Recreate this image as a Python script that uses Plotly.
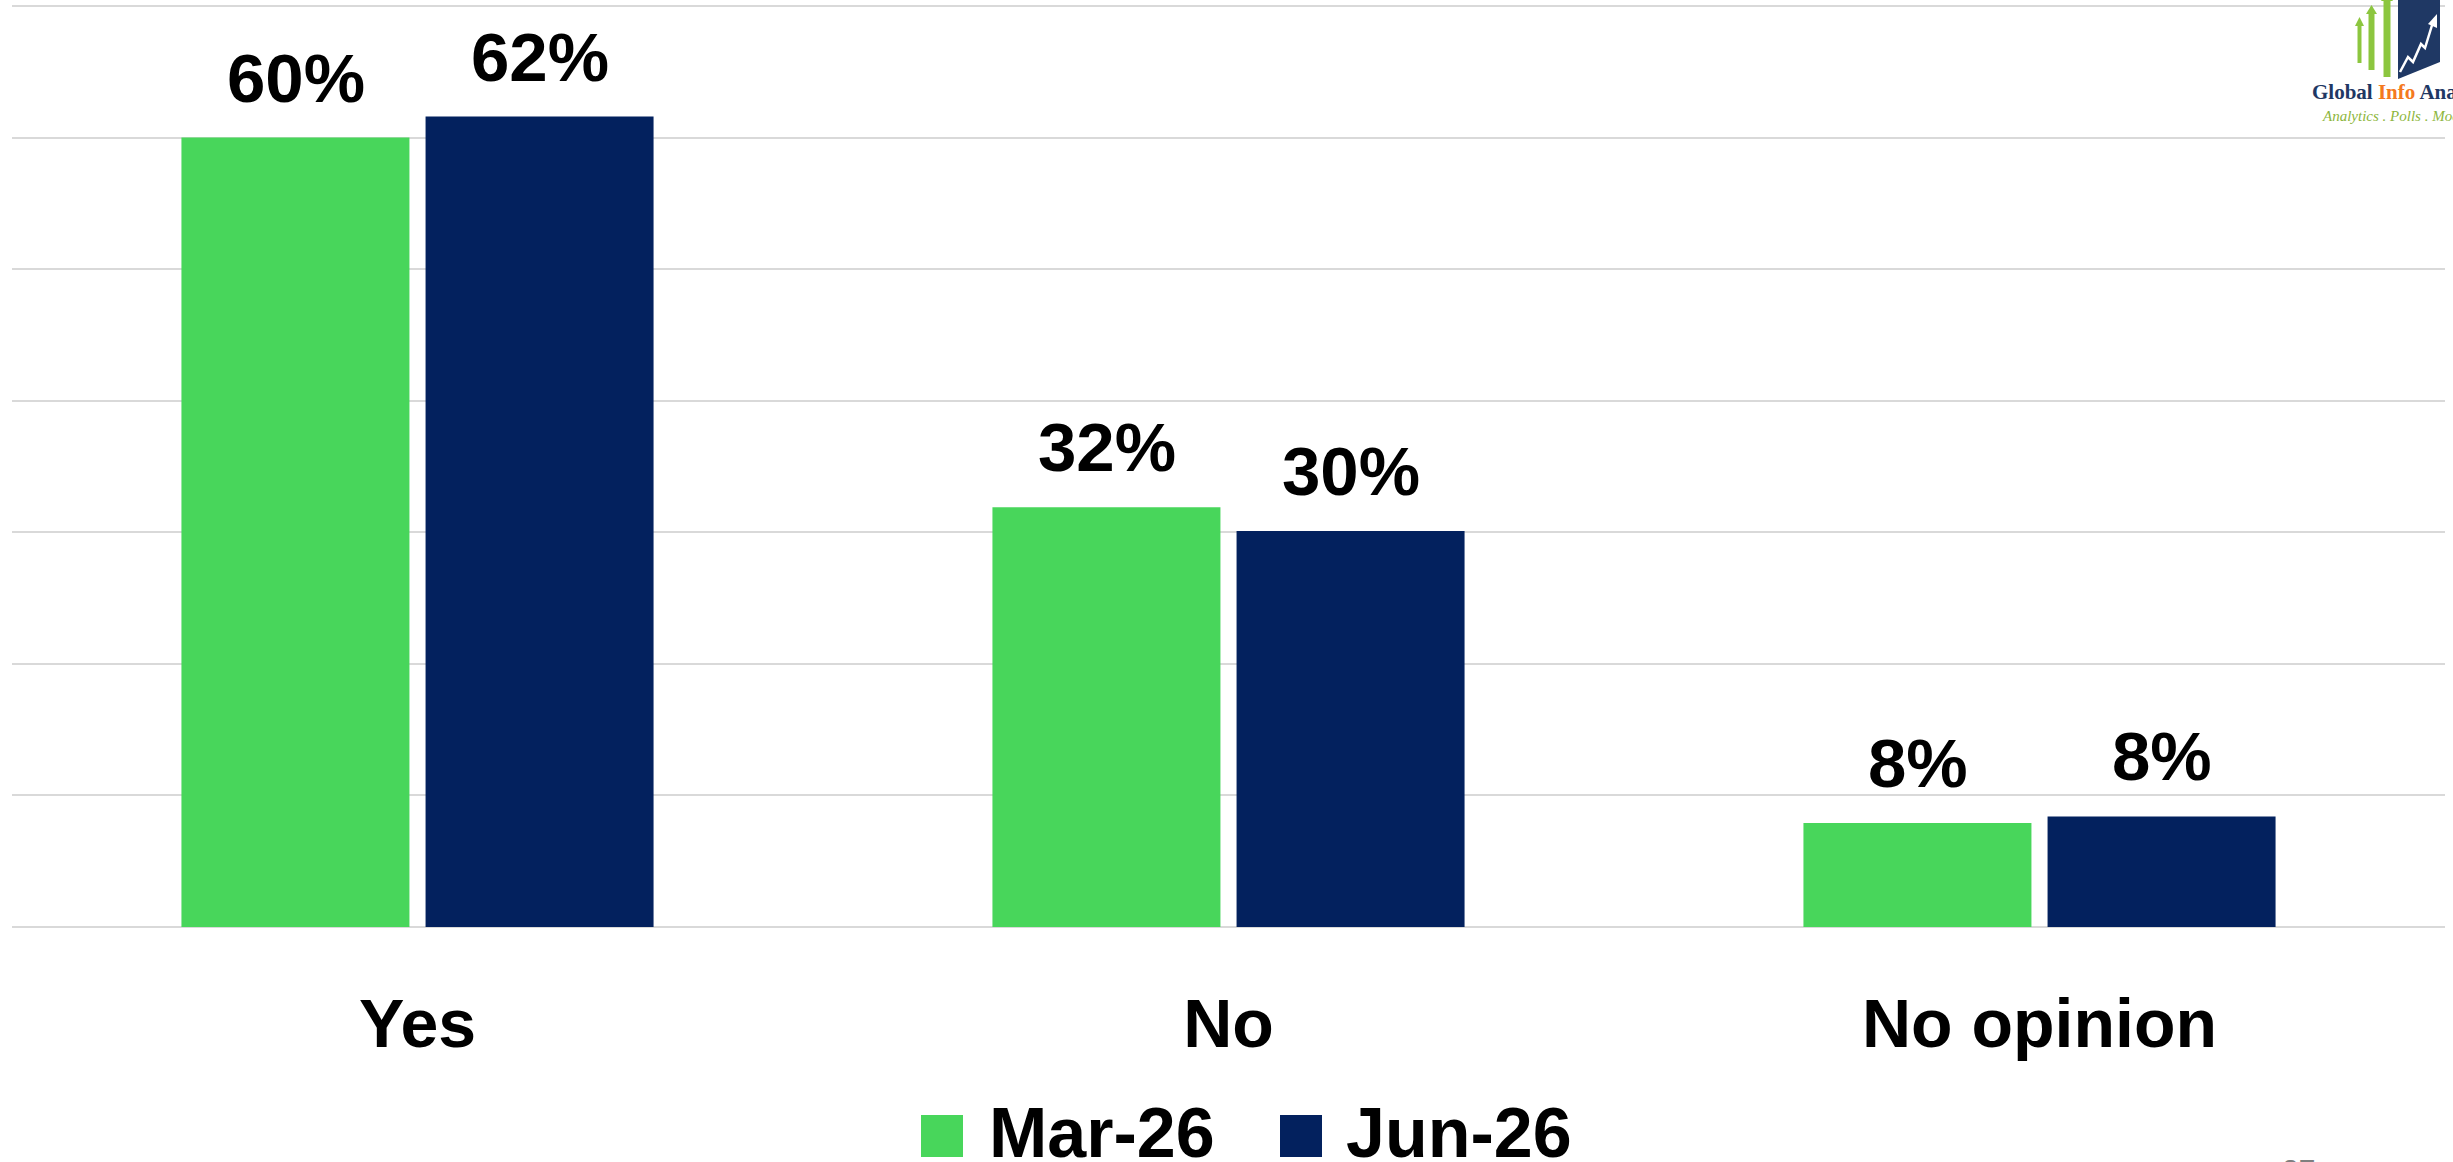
import plotly.graph_objects as go

# categories and series (labels are rounded)
CATEGORIES = ["Yes", "No", "No opinion"]
SERIES_NAMES = ["Mar-26", "Jun-26"]
MAR_26 = [60.0, 31.9, 7.9]
JUN_26 = [61.6, 30.1, 8.4]
SERIES_VALUES = [MAR_26, JUN_26]
COLORS = ["#48D65B", "#03215E"]
Y_TOP_GRID = 70

W, H = 2453, 1162
M_L, M_R, M_T, M_B = 12, 8, 2, 235
PLOT_W = W - M_L - M_R
PLOT_H = H - M_T - M_B
# top gridline sits at page y=6, baseline at y=927
Y_MAX = Y_TOP_GRID * PLOT_H / (H - M_B - 6)
FONT = "Liberation Sans, Arial, sans-serif"


def px(x):
    # page pixel -> paper x
    return (x - M_L) / PLOT_W


def py(y):
    # page pixel -> paper y
    return (H - M_B - y) / PLOT_H


fig = go.Figure()
for name, vals, col in zip(SERIES_NAMES, SERIES_VALUES, COLORS):
    fig.add_trace(go.Bar(
        x=CATEGORIES, y=vals, name=name,
        marker=dict(color=col, line=dict(width=0)),
        hovertemplate="%{x}: %{y:.0f}%<extra>" + name + "</extra>",
    ))

annotations = []
# data labels above each bar
for i, vals in enumerate(SERIES_VALUES):
    for cat, v in zip(CATEGORIES, vals):
        annotations.append(dict(
            x=cat, y=v, xref="x", yref="y", text=f"{v:.0f}%",
            showarrow=False, xanchor="center", yanchor="bottom",
            xshift=(i - 0.5) * 244, yshift=19,
            font=dict(family=FONT, size=69, color="black", weight="bold"),
        ))

shapes = []
# hand-built legend with big swatches
legend_items = [(SERIES_NAMES[0], COLORS[0], 921, 987),
                (SERIES_NAMES[1], COLORS[1], 1280, 1344)]
for name, col, sx, tx in legend_items:
    shapes.append(dict(type="rect", xref="paper", yref="paper",
                       x0=px(sx), x1=px(sx + 42), y0=py(1157), y1=py(1115),
                       fillcolor=col, line=dict(width=0)))
    annotations.append(dict(
        x=px(tx), y=py(1133), xref="paper", yref="paper", text=name,
        showarrow=False, xanchor="left", yanchor="middle",
        font=dict(family=FONT, size=70, color="black", weight="bold"),
    ))

# logo, top right
LOGO_GREEN = "#8CC63F"
for x0, x1, top, bottom in [(2356, 2363, 17, 63), (2367, 2376, 5, 70), (2382, 2392, -8, 77)]:
    mid = (x0 + x1) / 2
    shapes.append(dict(type="rect", xref="paper", yref="paper",
                       x0=px(x0 + 1.5), x1=px(x1 - 1.5), y0=py(bottom), y1=py(top + 8),
                       fillcolor=LOGO_GREEN, line=dict(width=0)))
    shapes.append(dict(type="path", xref="paper", yref="paper",
                       path=f"M {px(x0 - 1)},{py(top + 9)} L {px(x1 + 1)},{py(top + 9)} L {px(mid)},{py(top)} Z",
                       fillcolor=LOGO_GREEN, line=dict(width=0)))
shapes.append(dict(type="path", xref="paper", yref="paper",
                   path=f"M {px(2398)},{py(0)} L {px(2440)},{py(0)} L {px(2440)},{py(62)} L {px(2398)},{py(79)} Z",
                   fillcolor="#1F3864", line=dict(width=0)))
zig = [(2400, 72), (2408, 57), (2413, 62), (2421, 44), (2425, 48), (2433, 22)]
shapes.append(dict(type="path", xref="paper", yref="paper",
                   path="M " + " L ".join(f"{px(x)},{py(y)}" for x, y in zig),
                   line=dict(color="white", width=2.5)))
shapes.append(dict(type="path", xref="paper", yref="paper",
                   path=f"M {px(2428)},{py(24)} L {px(2437)},{py(14)} L {px(2437)},{py(28)} Z",
                   fillcolor="white", line=dict(width=0)))
annotations.append(dict(
    x=px(2310), y=py(92), xref="paper", yref="paper",
    text="<b>Global <span style='color:#F47920'>Info</span> Analytics</b>",
    showarrow=False, xanchor="left", yanchor="middle",
    font=dict(family="Liberation Serif, serif", size=21, color="#1F3864"),
))
annotations.append(dict(
    x=px(2320), y=py(116), xref="paper", yref="paper",
    text="<i>Analytics . Polls . Modelling</i>",
    showarrow=False, xanchor="left", yanchor="middle",
    font=dict(family="Liberation Serif, serif", size=15, color="#8DB63C"),
))
# page number, cut off at the bottom edge
annotations.append(dict(
    x=px(2298), y=py(1151), xref="paper", yref="paper", text="27",
    showarrow=False, xanchor="center", yanchor="top",
    font=dict(family=FONT, size=30, color="#7F7F7F"),
))

fig.update_layout(
    width=W, height=H,
    margin=dict(l=M_L, r=M_R, t=M_T, b=M_B, pad=0),
    plot_bgcolor="white", paper_bgcolor="white",
    barmode="group", bargap=0.398, bargroupgap=0.066,
    showlegend=False,
    font=dict(family=FONT, color="black"),
    xaxis=dict(
        showgrid=False, showline=False, zeroline=False, ticks="",
        tickfont=dict(family=FONT, size=68, color="black", weight="bold"),
        ticklabelstandoff=51,
    ),
    yaxis=dict(
        range=[0, Y_MAX], tick0=0, dtick=10, showticklabels=False,
        showgrid=True, gridcolor="#D9D9D9", gridwidth=2,
        zeroline=True, zerolinecolor="#D9D9D9", zerolinewidth=2,
        showline=False, ticks="",
    ),
    annotations=annotations,
    shapes=shapes,
)

# page margin off so the figure sits at the window's top-left corner
fig.write_html("out.html", config={"displayModeBar": False},
               post_script="document.body.style.margin='0';")
